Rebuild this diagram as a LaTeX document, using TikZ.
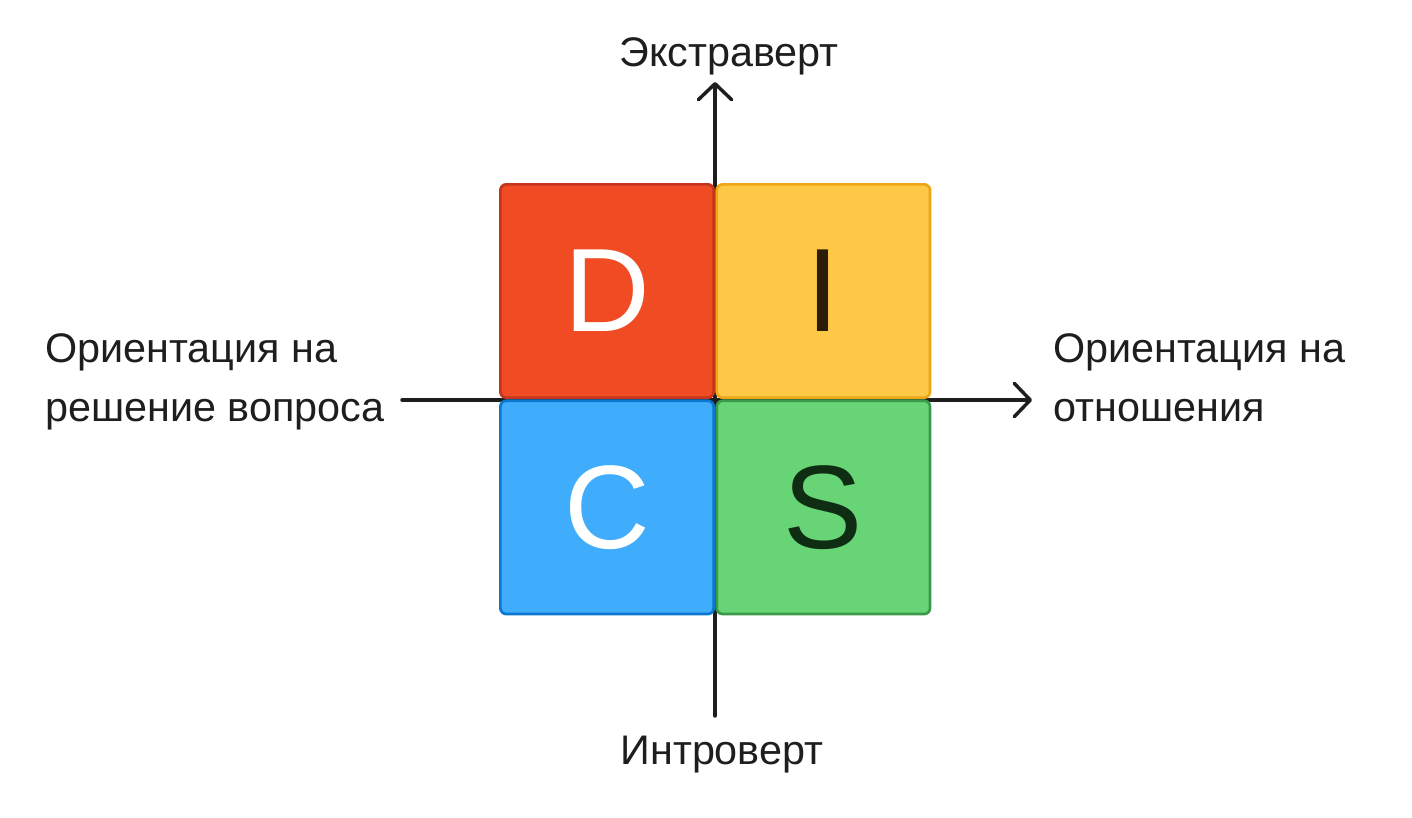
\documentclass[tikz,border=0pt]{standalone}
\usepackage{fontspec}
\setmainfont{Liberation Sans}
\usetikzlibrary{arrows.meta, positioning}
\definecolor{dfill}{HTML}{F04B23}
\definecolor{ddraw}{HTML}{C4351B}
\definecolor{ifill}{HTML}{FDC845}
\definecolor{idraw}{HTML}{EBA717}
\definecolor{cfill}{HTML}{3FACFC}
\definecolor{cdraw}{HTML}{0B77CF}
\definecolor{sfill}{HTML}{67D576}
\definecolor{sdraw}{HTML}{3B9A49}
\definecolor{itext}{HTML}{2B1D0A}
\definecolor{stext}{HTML}{0F2D12}
\definecolor{ink}{HTML}{1E1E1E}
\tikzset{
    quadrant/.style={
        rectangle, rounded corners=4.5pt, line width=2pt,
        minimum width=160pt, minimum height=160pt, inner sep=0pt,
        font=\fontsize{89}{89}\selectfont
    },
    axislabel/.style={
        font=\fontsize{31}{44}\selectfont, text=ink, inner sep=0pt
    },
    axis/.style={draw=ink, line width=2.6pt, line cap=round},
    axisarrow/.style={axis, -{Straight Barb[length=12pt, width=25pt, line cap=round, line join=round]}}
}
\begin{document}
\begin{tikzpicture}[x=0.75pt, y=-0.75pt, node distance=0.3pt]
\useasboundingbox (0,0) rectangle (1412,817);

% Axis ends
\coordinate (ytop) at (715,82);
\coordinate (ybot) at (715,716);
\coordinate (xleft) at (402,400);
\coordinate (xright) at (1032,400);

% Axes (behind the quadrants)
\draw[axisarrow] (ybot) -- (ytop);
\draw[axisarrow] (xleft) -- (xright);

% DISC quadrants
\node[quadrant, fill=dfill, draw=ddraw, text=white] (D) at (607,291) {D};
\node[quadrant, fill=ifill, draw=idraw, text=itext, right=of D] (I) {I};
\node[quadrant, fill=cfill, draw=cdraw, text=white, below=of D] (C) {C};
\node[quadrant, fill=sfill, draw=sdraw, text=stext, right=of C] (S) {S};

% Axis labels
\node[axislabel, anchor=base] (extra) at (729,67) {Экстраверт};
\node[axislabel, anchor=base] (intro) at (722,764) {Интроверт};
\node[axislabel, anchor=west, align=left] (task) at (45,382) {Ориентация на\\решение вопроса};
\node[axislabel, anchor=west, align=left] (people) at (1053,378) {Ориентация на\\отношения};

\end{tikzpicture}
\end{document}
